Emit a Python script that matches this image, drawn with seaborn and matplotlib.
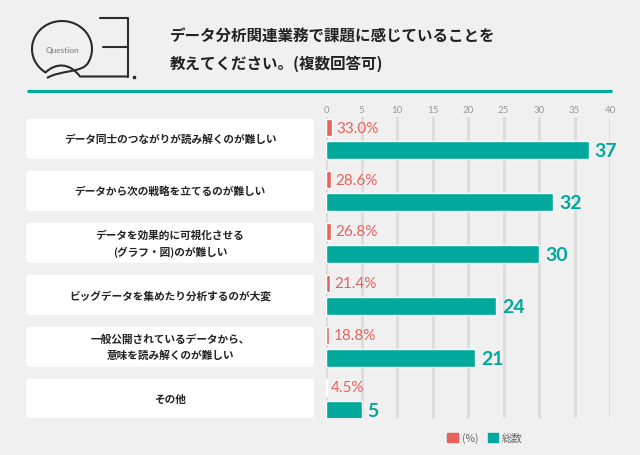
import numpy as np
import pandas as pd
import seaborn as sns
import matplotlib.pyplot as plt
from matplotlib.patches import FancyBboxPatch, Arc, PathPatch, Patch
from matplotlib.path import Path

# ---------- data ----------
labels = [
    "データ同士のつながりが読み解くのが難しい",
    "データから次の戦略を立てるのが難しい",
    "データを効果的に可視化させる\n(グラフ・図)のが難しい",
    "ビッグデータを集めたり分析するのが大変",
    "一般公開されているデータから、\n意味を読み解くのが難しい",
    "その他",
]
pct = [33.0, 28.6, 26.8, 21.4, 18.8, 4.5]
counts = [37, 32, 30, 24, 21, 5]
series_names = ["(%)", "総数"]
ticks = [0, 5, 10, 15, 20, 25, 30, 35, 40]
title_lines = ["データ分析関連業務で課題に感じていることを", "教えてください。(複数回答可)"]

RED = "#e8625b"
TEAL = "#00a99c"
BG = "#f0f0f0"
palette = {series_names[0]: RED, series_names[1]: TEAL}

sns.set_theme(style="white")
plt.rcParams["font.family"] = ["Noto Sans CJK JP", "DejaVu Sans"]

df_pct = pd.DataFrame({"label": labels, "value": pct, "series": series_names[0]})
df_cnt = pd.DataFrame({"label": labels, "value": counts, "series": series_names[1]})

fig = plt.figure(figsize=(6.4, 4.56), dpi=100, facecolor=BG)

# ---------- header ----------
hdr = fig.add_axes([0, 0, 1, 1])
hdr.set_xlim(0, 640)
hdr.set_ylim(456, 0)
hdr.axis("off")
hdr.plot([27, 612], [92, 92], color=TEAL, lw=2.2, solid_capstyle="butt")

# Q3 logo
ink = "#2b2b2b"
hdr.add_patch(Arc((62, 50), 60, 56, theta1=125, theta2=390, color=ink, lw=1.5))
stroke_a = Path([(88, 64), (82, 74), (60, 71), (47, 79)],
                [Path.MOVETO, Path.CURVE4, Path.CURVE4, Path.CURVE4])
hdr.add_patch(PathPatch(stroke_a, fc="none", ec=ink, lw=1.5))
stroke_b = Path([(45, 74), (56, 63), (70, 64), (80, 77.5), (128, 77.5)],
                [Path.MOVETO, Path.CURVE4, Path.CURVE4, Path.CURVE4, Path.LINETO])
hdr.add_patch(PathPatch(stroke_b, fc="none", ec=ink, lw=1.5))
hdr.plot([100, 128, 128], [18.5, 18.5, 77.5], color=ink, lw=1.5)
hdr.plot([103, 128], [48, 48], color=ink, lw=1.5)
hdr.plot(134, 77.5, "s", color=ink, ms=2)
hdr.text(62, 50, "Question", ha="center", va="center", fontsize=6,
         color="#777777", family="Lato")

hdr.text(170, 37, title_lines[0], fontsize=11.2, weight="bold", va="center", color="#222222")
hdr.text(170, 64, title_lines[1], fontsize=11.2, weight="bold", va="center", color="#222222")

# ---------- layout ----------
bottom = 1 - 419 / 456
height = 301 / 456
ylim = (5.37, -0.42)
row_px = 51.9

# label boxes
axl = fig.add_axes([26 / 640, bottom, 288 / 640, height])
axl.set_xlim(0, 288)
axl.set_ylim(*ylim)
axl.axis("off")
for i, lab in enumerate(labels):
    axl.add_patch(FancyBboxPatch((0, i - 0.385), 288, 0.77,
                                 boxstyle="round,pad=0,rounding_size=4",
                                 mutation_aspect=1 / row_px, fc="white", ec="none"))
    axl.text(144, i, lab, ha="center", va="center", fontsize=7.7, weight="bold",
             color="#222222", linespacing=1.6)

# ---------- bars ----------
ax = fig.add_axes([326 / 640, bottom, 284 / 640, height])
ax.set_facecolor("none")
sns.barplot(data=df_cnt, x="value", y="label", hue="series", hue_order=series_names,
            order=labels, palette=palette, dodge=True, width=0.87, gap=0.22,
            errorbar=None, saturation=1, legend=False, ax=ax)

ax2 = ax.twiny()
sns.barplot(data=df_pct, x="value", y="label", hue="series", hue_order=series_names,
            order=labels, palette=palette, dodge=True, width=0.87, gap=0.22,
            errorbar=None, saturation=1, legend=False, ax=ax2)
ax2.set_xlim(0, 1560)
ax2.xaxis.set_visible(False)
ax2.set_xlabel("")
for s in ax2.spines.values():
    s.set_visible(False)

ax.set_xlim(0, 40)
ax.set_xticks(ticks)
ax.xaxis.tick_top()
ax.tick_params(axis="x", length=0, pad=2, labelsize=7, labelcolor="#9a9a9a")
for t in ax.get_xticklabels():
    t.set_family("Lato")
ax.set_xlabel("")
ax.set_ylabel("")
ax.grid(True, axis="x", color="#dcdcdc", lw=2)
ax.set_axisbelow(True)
for s in ax.spines.values():
    s.set_visible(False)
ax.set_ylim(*ylim)
ax.set_yticks([])

cnt_bars = [c for c in ax.containers if len(c)][0]
ax.bar_label(cnt_bars, fmt="%d", padding=4.3, color=TEAL, fontsize=14,
             fontweight="bold", family="Lato")
pct_bars = [c for c in ax2.containers if len(c)][0]
ax2.bar_label(pct_bars, fmt="%.1f%%", padding=2.9, color=RED, fontsize=11, family="Lato")

# ---------- legend ----------
fig.legend(handles=[Patch(color=RED, label=series_names[0]),
                    Patch(color=TEAL, label=series_names[1])],
           loc="center", bbox_to_anchor=(485 / 640, 1 - 439 / 456), ncol=2,
           frameon=False, fontsize=7.5, handlelength=1.0, handleheight=1.0,
           handletextpad=0.4, columnspacing=0.9, labelcolor="#666666")

fig.savefig("out.png", dpi=100, facecolor=BG)
